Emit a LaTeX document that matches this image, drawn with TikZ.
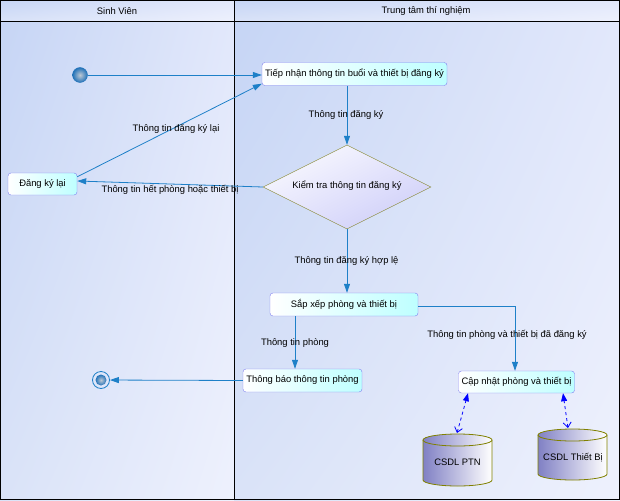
\documentclass[tikz,border=0pt]{standalone}
\usepackage{fontspec}
\setmainfont{Liberation Sans}
\usetikzlibrary{arrows.meta,shapes.geometric,calc,shadings}
\definecolor{conn}{RGB}{30,128,200}
\definecolor{boxborder}{RGB}{128,128,240}
\definecolor{boxcyan}{RGB}{190,255,255}
\definecolor{diaborder}{RGB}{140,140,60}
\definecolor{dialav}{RGB}{200,200,248}
\definecolor{dialavm}{RGB}{228,228,252}
\definecolor{cylL}{RGB}{128,128,196}
\definecolor{cylborder}{RGB}{128,128,0}
\definecolor{laneA}{RGB}{198,213,245}
\definecolor{laneB}{RGB}{218,227,248}
\definecolor{laneC}{RGB}{226,232,251}
\definecolor{laneD}{RGB}{238,241,253}
\definecolor{ballin}{RGB}{190,200,212}
\definecolor{ballout}{RGB}{35,115,185}
\begin{document}
\begin{tikzpicture}[x=1pt,y=-1pt, font=\fontsize{9.4}{11}\selectfont,
 actbox/.style={draw=boxborder, rounded corners=3pt, left color=white, right color=boxcyan, minimum height=23pt, inner sep=2pt},
 flow/.style={draw=conn, line width=0.8pt, -{Triangle[length=9pt,width=6pt]}},
 lbl/.style={inner sep=1pt, text=black},
 dbl/.style={draw=blue, dashed, line width=0.8pt, {Straight Barb[length=5pt,width=8pt]}-{Triangle[length=8pt,width=6pt]}},
 cylfill/.style={left color=cylL, right color=white},
 lanebg/.style={upper left=laneA, lower left=laneB, upper right=laneC, lower right=laneD}
]
\useasboundingbox (0,0) rectangle (620,500);
% lanes
\shade[lanebg] (0,0) rectangle (234,22);
\shade[lanebg] (234,0) rectangle (620,22);
\shade[lanebg] (0,22) rectangle (234,500);
\shade[lanebg] (234,22) rectangle (620,500);
\draw[line width=1pt] (0.5,0.5) rectangle (619.5,499.5);
\draw[line width=1pt] (0,22) -- (620,22);
\draw[line width=1pt] (234.5,0) -- (234.5,500);
\node[lbl] (h1) at (117,11) {Sinh Viên};
\node[lbl] (h2) at (426,11) {Trung tâm thí nghiệm};

% nodes
\node[circle, minimum size=15pt, inner sep=0pt, inner color=ballin, outer color=ballout, draw=ballout] (start) at (80,75) {};
\node[actbox, minimum width=185pt] (tn) at (354.5,74) {Tiếp nhận thông tin buổi và thiết bị đăng ký};
\node[actbox, minimum width=69pt, minimum height=22pt] (dk) at (42.5,184) {Đăng ký lại};
\node[diamond, draw=diaborder, minimum width=168pt, minimum height=84pt, inner sep=0pt,
      upper left=white, upper right=dialavm, lower left=dialavm, lower right=dialav] (dia) at (347,187) {};
\node[lbl] (diat) at (347,186) {Kiểm tra thông tin đăng ký};
\node[actbox, minimum width=148pt] (sx) at (344,304.5) {Sắp xếp phòng và thiết bị};
\node[actbox, minimum width=119pt] (tb) at (302.5,380.5) {Thông báo thông tin phòng};
\node[actbox, minimum width=116pt, minimum height=22pt] (cn) at (516.5,382) {Cập nhật phòng và thiết bị};
\node[circle, minimum size=17pt, inner sep=0pt, draw=conn, line width=0.8pt] (end) at (101,380) {};
\node[circle, minimum size=11pt, inner sep=0pt, inner color=ballin, outer color=ballout] (endin) at (end.center) {};

% cylinders
\shade[cylfill] (423,440) rectangle (492,480);
\shade[cylfill] (457.5,480) ellipse [x radius=34.5pt, y radius=6pt];
\draw[cylborder, line width=0.8pt] (423,440) -- (423,480) arc[start angle=180, end angle=360, x radius=34.5pt, y radius=6pt] -- (492,440);
\shade[cylfill, draw=cylborder, line width=0.8pt] (457.5,440) ellipse [x radius=34.5pt, y radius=6pt];
\node[lbl] (ptn) at (457.5,462) {CSDL PTN};
\coordinate (ptntop) at (457,433);

\shade[cylfill] (538,435) rectangle (607,474);
\shade[cylfill] (572.5,474) ellipse [x radius=34.5pt, y radius=6pt];
\draw[cylborder, line width=0.8pt] (538,435) -- (538,474) arc[start angle=180, end angle=360, x radius=34.5pt, y radius=6pt] -- (607,435);
\shade[cylfill, draw=cylborder, line width=0.8pt] (572.5,435) ellipse [x radius=34.5pt, y radius=6pt];
\node[lbl] (tbi) at (573,458) {CSDL Thiết Bị};
\coordinate (tbitop) at (568,428);

% connectors
\draw[flow] (start) -- (start -| tn.west);
\draw[flow] ([yshift=-4pt]dk.north east) -- ([yshift=2pt]tn.south west);
\draw[flow] (dia.north |- tn.south) -- (dia.north);
\draw[flow] (dia.west) -- ([yshift=3pt]dk.east);
\draw[flow] (dia.south) -- (dia.south |- sx.north);
\coordinate (sxl) at ([xshift=-49pt]sx.south);
\draw[flow] (sxl) -- (sxl |- tb.north);
\draw[flow] ([yshift=-2pt]sx.east) -| ([xshift=-1.5pt]cn.north);
\draw[flow] (tb.west) -- (end);
\draw[dbl] (ptntop) -- ([xshift=-48.5pt]cn.south);
\draw[dbl] (tbitop) -- ([xshift=46.5pt]cn.south);

% labels
\node[lbl] (l1) at (176,129) {Thông tin đăng ký lại};
\node[lbl] (l2) at (346,115) {Thông tin đăng ký};
\node[lbl] (l3) at (170,190) {Thông tin hết phòng hoặc thiết bị};
\node[lbl] (l4) at (346.5,261) {Thông tin đăng ký hợp lệ};
\node[lbl] (l5) at (295,343) {Thông tin phòng};
\node[lbl] (l6) at (507,335) {Thông tin phòng và thiết bị đã đăng ký};
\end{tikzpicture}
\end{document}
